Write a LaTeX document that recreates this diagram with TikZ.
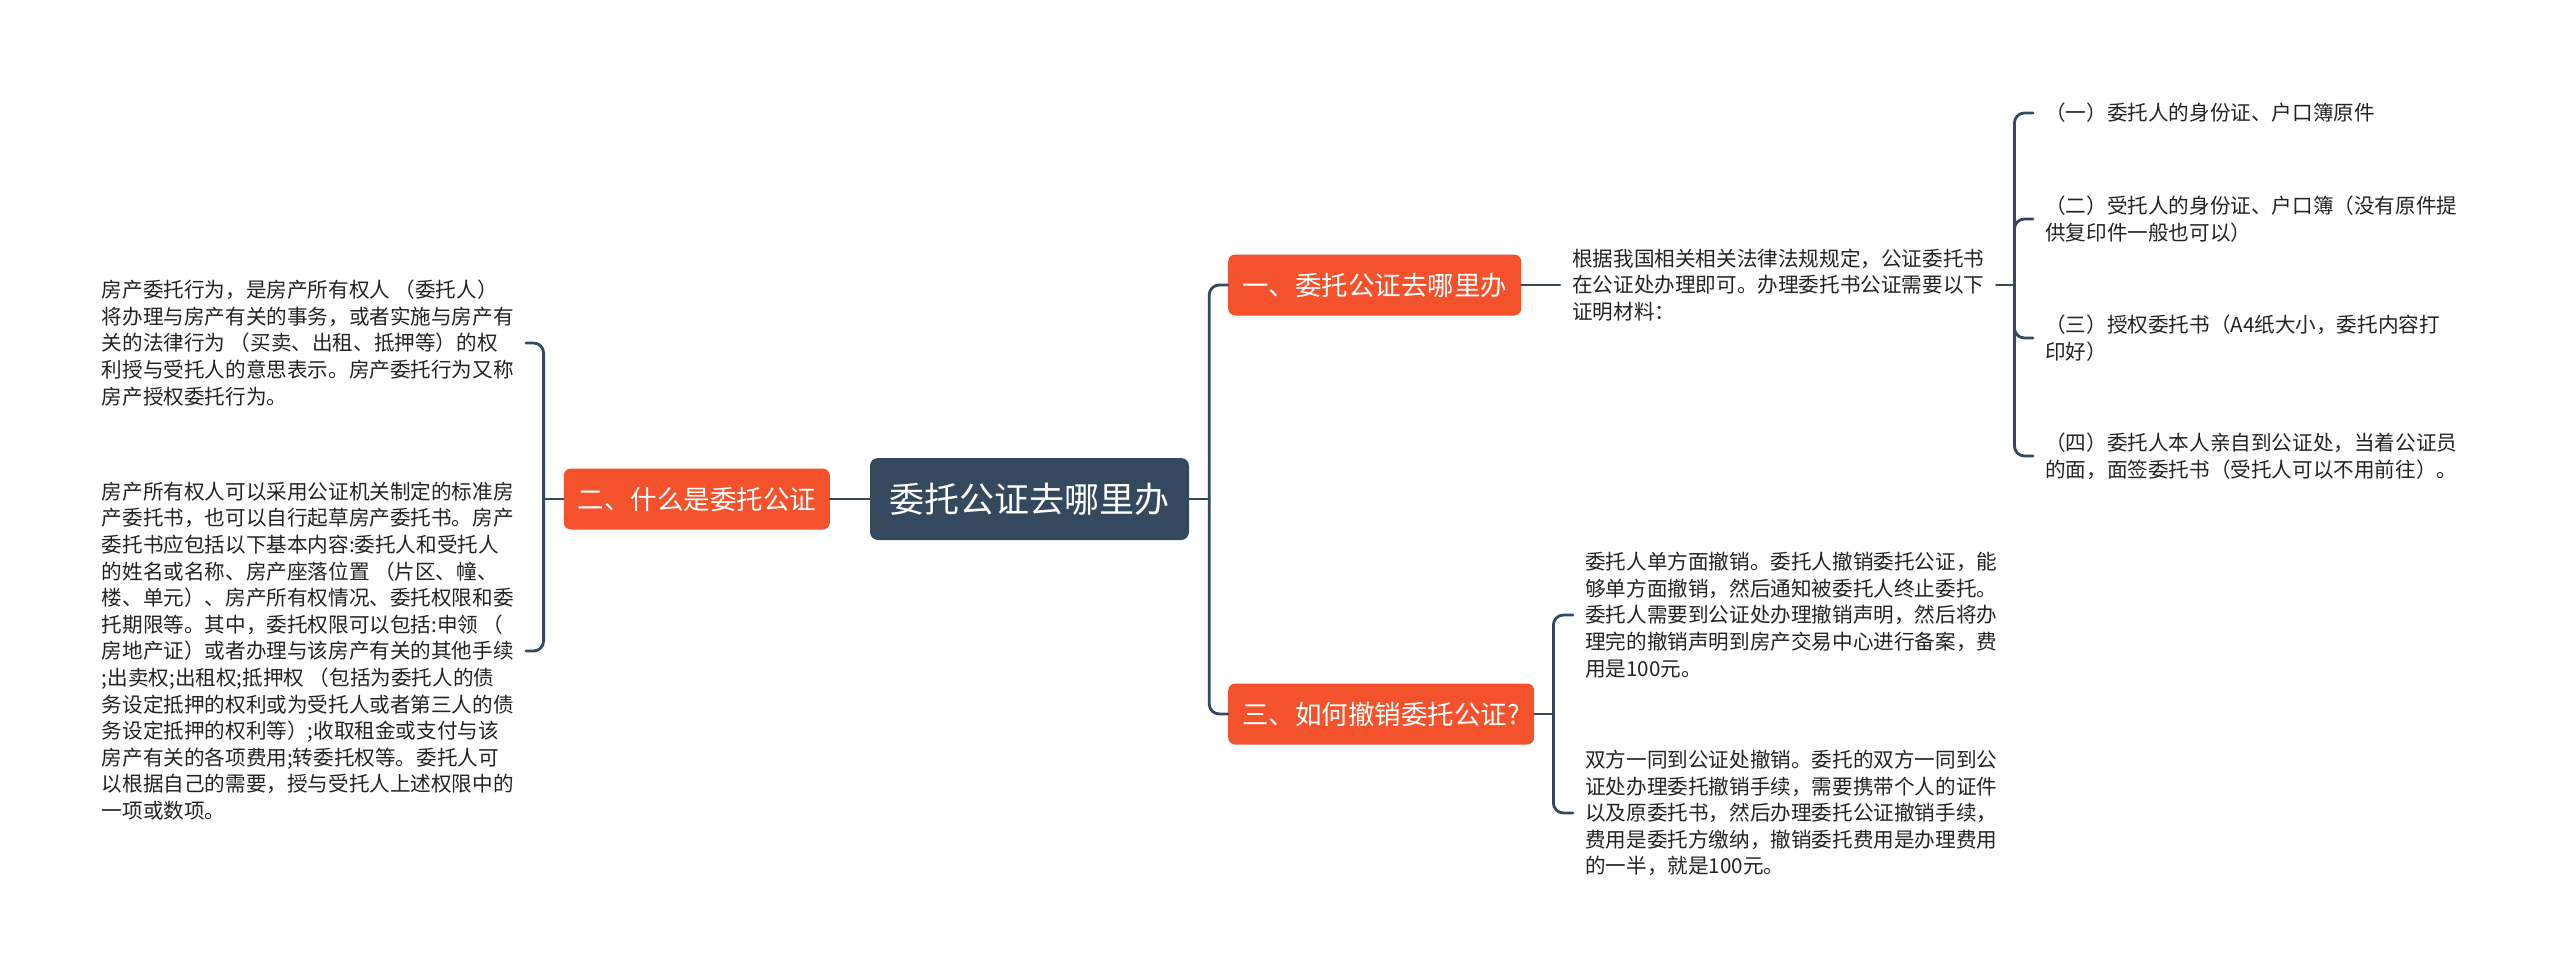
\documentclass[tikz,border=0pt]{standalone}
\usepackage{fontspec}
\setmainfont{Noto Sans CJK SC}
\definecolor{topicdark}{RGB}{52,73,94}
\definecolor{topicred}{RGB}{244,82,44}
\definecolor{leaftext}{RGB}{35,35,35}
\newcommand{\rootsize}{\fontsize{35}{42}\selectfont}
\newcommand{\mainsize}{\fontsize{26.5}{32}\selectfont}
\newcommand{\leafsize}{\fontsize{20.6}{26.6}\selectfont}

\begin{document}
\begin{tikzpicture}[x=1pt, y=-1pt, line join=round, line cap=round,
	rootbox/.style={fill=topicdark, text=white, rounded corners=8pt, minimum width=319pt, minimum height=82pt, inner sep=0pt, font=\rootsize},
	mainbox/.style={fill=topicred, text=white, rounded corners=7pt, minimum height=61pt, inner sep=0pt, font=\mainsize},
	leaf/.style={text=leaftext, align=left, inner xsep=12pt, inner ysep=3pt, font=\leafsize},
	link/.style={draw=topicdark, line width=2.8pt, rounded corners=10pt}]
	\useasboundingbox (0,0) rectangle (2560,979);

	\node[rootbox] (root) at (1029.5,499) {委托公证去哪里办};
	\node[mainbox, minimum width=293pt, anchor=west] (yi) at (1228,285) {一、委托公证去哪里办};
	\node[mainbox, minimum width=266pt, anchor=east] (er) at (830,499) {二、什么是委托公证};
	\node[mainbox, minimum width=306pt, anchor=west] (san) at (1228,714) {三、如何撤销委托公证?};

	\node[leaf, anchor=west] (yiA) at (1560,285) {根据我国相关相关法律法规规定，公证委托书\\在公证处办理即可。办理委托书公证需要以下\\证明材料：};
	\node[leaf, anchor=west] (yiA1) at (2033,113) {（一）委托人的身份证、户口簿原件};
	\node[leaf, anchor=west] (yiA2) at (2033,219) {（二）受托人的身份证、户口簿（没有原件提\\供复印件一般也可以）};
	\node[leaf, anchor=west] (yiA3) at (2033,338) {（三）授权委托书（A4纸大小，委托内容打\\印好）};
	\node[leaf, anchor=west] (yiA4) at (2033,456) {（四）委托人本人亲自到公证处，当着公证员\\的面，面签委托书（受托人可以不用前往）。};

	\node[leaf, anchor=east] (erA) at (526,343) {房产委托行为，是房产所有权人 （委托人）\\将办理与房产有关的事务，或者实施与房产有\\关的法律行为 （买卖、出租、抵押等）的权\\利授与受托人的意思表示。房产委托行为又称\\房产授权委托行为。};
	\node[leaf, anchor=east] (erB) at (526,651) {房产所有权人可以采用公证机关制定的标准房\\产委托书，也可以自行起草房产委托书。房产\\委托书应包括以下基本内容:委托人和受托人\\的姓名或名称、房产座落位置 （片区、幢、\\楼、单元）、房产所有权情况、委托权限和委\\托期限等。其中，委托权限可以包括:申领 （\\房地产证）或者办理与该房产有关的其他手续\\;出卖权;出租权;抵押权 （包括为委托人的债\\务设定抵押的权利或为受托人或者第三人的债\\务设定抵押的权利等）;收取租金或支付与该\\房产有关的各项费用;转委托权等。委托人可\\以根据自己的需要，授与受托人上述权限中的\\一项或数项。};

	\node[leaf, anchor=west] (sanA) at (1573,615) {委托人单方面撤销。委托人撤销委托公证，能\\够单方面撤销，然后通知被委托人终止委托。\\委托人需要到公证处办理撤销声明，然后将办\\理完的撤销声明到房产交易中心进行备案，费\\用是100元。};
	\node[leaf, anchor=west] (sanB) at (1573,813) {双方一同到公证处撤销。委托的双方一同到公\\证处办理委托撤销手续，需要携带个人的证件\\以及原委托书，然后办理委托公证撤销手续，\\费用是委托方缴纳，撤销委托费用是办理费用\\的一半，就是100元。};

	\draw[link] (root.east) -- ++(20,0) coordinate (jr);
	\draw[link] (jr) |- (yi.west);
	\draw[link] (jr) |- (san.west);
	\draw[link] (root.west) -- (er.east);
	\draw[link] (er.west) -- ++(-20,0) coordinate (jl);
	\draw[link] (jl) |- (erA.east);
	\draw[link] (jl) |- (erB.east);
	\draw[link] (yi.east) -- (yiA.west);
	\draw[link] (yiA.east) -- ++(18,0) coordinate (jy);
	\draw[link] (jy) |- (yiA1.west);
	\draw[link] (jy) |- (yiA2.west);
	\draw[link] (jy) |- (yiA3.west);
	\draw[link] (jy) |- (yiA4.west);
	\draw[link] (san.east) -- ++(19,0) coordinate (js);
	\draw[link] (js) |- (sanA.west);
	\draw[link] (js) |- (sanB.west);
\end{tikzpicture}
\end{document}
